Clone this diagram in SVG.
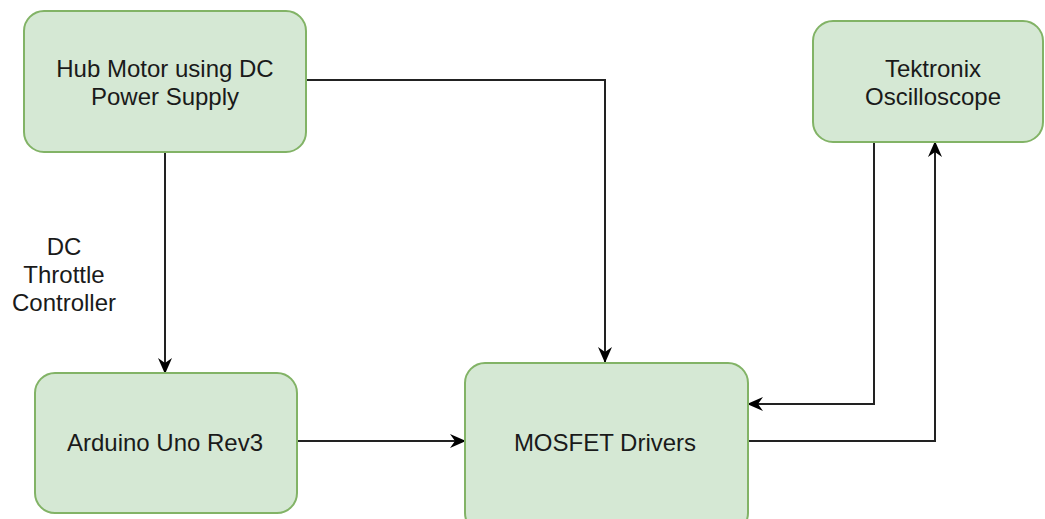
<svg xmlns="http://www.w3.org/2000/svg" width="1045" height="519" viewBox="0 0 1045 519">
<defs>
<style>
.box{fill:#d5e8d4;stroke:#82b366;stroke-width:2}
.t{font-family:"Liberation Sans",Arial,sans-serif;font-size:24px;fill:#1a1a1a;text-anchor:middle}
.c{fill:none;stroke:#222;stroke-width:2;marker-end:url(#ah)}
</style>
<marker id="ah" viewBox="0 0 16 16" refX="15" refY="8" markerWidth="16" markerHeight="16" markerUnits="userSpaceOnUse" orient="auto">
<path d="M0,1 L16,8 L0,15 L5,8 Z" fill="#000"/>
</marker>
</defs>
<rect width="1045" height="519" fill="#fff"/>
<g id="connectors">
<path class="c" d="M306,80 H605 V362"/>
<path class="c" d="M165,152 V373"/>
<path class="c" d="M297,441 H465"/>
<path class="c" d="M874,142 V404 H748"/>
<path class="c" d="M748,441 H935 V142"/>
</g>
<g id="label-dc">
<text class="t" x="64" y="255">DC</text>
<text class="t" x="64" y="283">Throttle</text>
<text class="t" x="64" y="311">Controller</text>
</g>
<g id="hub">
<rect class="box" x="24" y="11" width="282" height="141" rx="20"/>
<text class="t" x="165" y="77">Hub Motor using DC</text>
<text class="t" x="165" y="105">Power Supply</text>
</g>
<g id="tek">
<rect class="box" x="813" y="21" width="230" height="121" rx="20"/>
<text class="t" x="933" y="77">Tektronix</text>
<text class="t" x="933" y="105">Oscilloscope</text>
</g>
<g id="arduino">
<rect class="box" x="35" y="373" width="262" height="140" rx="20"/>
<text class="t" x="165" y="451">Arduino Uno Rev3</text>
</g>
<g id="mosfet">
<rect class="box" x="465" y="363" width="283" height="170" rx="20"/>
<text class="t" x="605" y="451">MOSFET Drivers</text>
</g>
</svg>
